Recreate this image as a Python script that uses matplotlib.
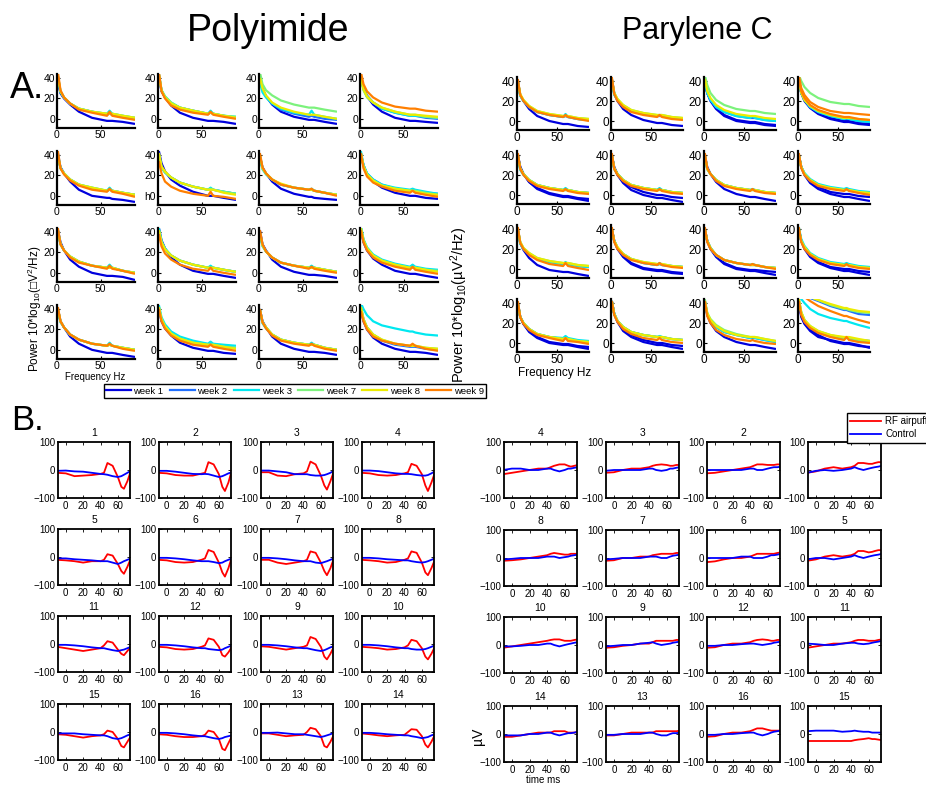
import matplotlib
matplotlib.use('Agg')
import matplotlib.pyplot as plt
from matplotlib.lines import Line2D

plt.rcParams['font.family'] = ['Liberation Sans', 'DejaVu Sans']
plt.rcParams['mathtext.fontset'] = 'custom'
plt.rcParams['mathtext.rm'] = 'Liberation Sans'
plt.rcParams['mathtext.it'] = 'Liberation Sans:italic'

W, H = 926, 785

# ---------------- A. power spectra ----------------
freq_hz = [1, 4, 8, 15, 25, 40, 57, 60, 63, 75, 89]
week_labels = ['week 1', 'week 2', 'week 3', 'week 7', 'week 8', 'week 9']
week_colors = ['#0000dd', '#1f6fff', '#00e8f0', '#7cf27c', '#ecec00', '#ff7f00']

poly_w1 = [
    [36, 25, 20, 14, 7, 1, -2, -2, -2, -3, -5], [40, 27, 21, 13, 6, 1, -2, -2, -2, -3, -5],
    [38, 30, 22, 14, 7, 2, -1, -1, -1, -3, -5], [40, 30, 22, 14, 7, 1, -2, -2, -2, -3, -4],
    [38, 28, 22, 14, 6, 0, -2, -2, -3, -4, -6], [44, 32, 24, 16, 10, 4, 0, 0, 0, -2, -4],
    [38, 28, 22, 14, 7, 2, -1, -1, -2, -3, -4], [40, 30, 21, 14, 8, 3, 0, 0, 0, -2, -3],
    [42, 30, 22, 13, 6, 0, -3, -3, -3, -4, -7], [44, 32, 24, 15, 8, 2, -1, -1, -1, -3, -5],
    [42, 28, 22, 13, 6, 1, -2, -2, -2, -3, -5], [42, 30, 22, 14, 8, 2, -1, -1, -1, -3, -5],
    [40, 28, 22, 13, 6, 0, -3, -3, -3, -5, -7], [40, 28, 21, 14, 7, 2, -1, -1, -1, -3, -4],
    [40, 28, 22, 13, 6, 1, -2, -2, -2, -3, -5], [40, 28, 20, 12, 6, 1, -2, -2, -2, -3, -5]]
poly_w2 = [
    [42, 27, 21, 15, 10, 7, 4, 5, 4, 2, 0], [44, 28, 21, 15, 11, 8, 5, 6, 5, 3, 1],
    [40, 29, 22, 15, 9, 5, 2, 3, 2, 0, -1], [42, 30, 23, 16, 10, 6, 3, 3, 3, 1, 0],
    [42, 28, 22, 16, 11, 7, 5, 6, 5, 3, 1], [40, 28, 23, 18, 13, 9, 6, 7, 6, 4, 2],
    [40, 27, 22, 16, 11, 8, 6, 6, 5, 3, 1], [42, 30, 22, 16, 11, 7, 5, 5, 5, 3, 2],
    [42, 28, 22, 16, 11, 7, 5, 5, 5, 2, 0], [42, 30, 23, 17, 12, 8, 5, 6, 5, 3, 1],
    [40, 27, 21, 15, 10, 7, 5, 6, 5, 3, 1], [44, 32, 24, 17, 12, 8, 5, 6, 5, 3, 2],
    [40, 28, 22, 15, 10, 6, 4, 5, 4, 2, 0], [42, 30, 23, 16, 11, 7, 5, 6, 5, 3, 2],
    [40, 27, 22, 15, 10, 7, 5, 5, 5, 2, 0], [42, 30, 22, 15, 9, 5, 3, 3, 3, 1, 0]]
poly_w3 = [
    [40, 26, 21, 15, 10, 7, 5, 8, 5, 3, 1], [44, 28, 22, 16, 11, 8, 5, 8, 5, 3, 2],
    [36, 26, 21, 15, 10, 6, 4, 8, 4, 2, 0], [42, 29, 22, 16, 10, 6, 3, 3, 3, 2, 1],
    [40, 27, 22, 16, 11, 8, 5, 8, 5, 3, 1], [40, 28, 23, 18, 13, 9, 6, 8, 6, 4, 2],
    [36, 26, 21, 16, 11, 8, 6, 7, 5, 3, 1], [44, 30, 22, 16, 11, 8, 6, 7, 6, 4, 2],
    [40, 28, 22, 16, 11, 7, 5, 8, 5, 2, 0], [44, 31, 24, 17, 12, 8, 5, 7, 5, 3, 1],
    [38, 26, 21, 15, 10, 7, 5, 7, 5, 3, 1], [46, 33, 25, 18, 13, 9, 6, 8, 6, 4, 3],
    [38, 27, 22, 15, 10, 6, 4, 7, 4, 2, 0], [44, 32, 25, 18, 13, 9, 6, 8, 6, 5, 4],
    [38, 26, 21, 15, 10, 7, 5, 7, 5, 2, 0], [46, 40, 34, 28, 24, 21, 18, 18, 17, 15, 14]]
poly_w7 = [
    [42, 27, 21, 15, 10, 7, 5, 6, 5, 3, 1], [44, 28, 22, 16, 11, 8, 5, 6, 5, 3, 2],
    [46, 34, 28, 23, 18, 14, 11, 11, 11, 9, 7], [40, 28, 21, 16, 11, 7, 4, 4, 4, 2, 1],
    [40, 27, 22, 16, 11, 8, 5, 6, 5, 3, 1], [42, 28, 23, 18, 13, 9, 6, 7, 6, 4, 2],
    [40, 27, 22, 16, 11, 8, 6, 6, 5, 3, 1], [42, 29, 21, 15, 10, 7, 5, 5, 5, 3, 1],
    [42, 28, 22, 16, 11, 7, 5, 5, 5, 2, 0], [42, 30, 23, 17, 12, 8, 5, 5, 5, 3, 1],
    [40, 27, 21, 15, 10, 7, 5, 5, 5, 3, 1], [44, 32, 24, 17, 12, 8, 5, 5, 5, 3, 2],
    [40, 28, 22, 15, 10, 6, 4, 5, 4, 2, 0], [42, 30, 23, 16, 11, 7, 5, 5, 5, 3, 2],
    [40, 27, 22, 15, 10, 7, 5, 5, 5, 2, 0], [42, 30, 22, 15, 10, 6, 4, 4, 4, 2, 1]]
poly_w8 = [
    [42, 27, 21, 15, 10, 7, 5, 5, 5, 3, 1], [44, 28, 21, 15, 11, 8, 5, 6, 5, 3, 1],
    [40, 30, 23, 16, 11, 7, 4, 4, 4, 2, 0], [40, 29, 22, 16, 11, 7, 4, 4, 4, 3, 2],
    [40, 27, 22, 16, 11, 8, 5, 6, 5, 3, 1], [42, 29, 24, 18, 13, 9, 6, 6, 6, 3, 1],
    [40, 27, 22, 16, 12, 8, 6, 6, 5, 3, 1], [42, 29, 21, 15, 10, 7, 5, 5, 4, 2, 1],
    [42, 28, 22, 16, 11, 7, 5, 5, 5, 2, 0], [42, 30, 23, 17, 12, 8, 5, 5, 5, 3, 1],
    [40, 27, 21, 15, 10, 7, 5, 5, 5, 3, 1], [44, 32, 24, 17, 12, 8, 5, 5, 5, 3, 1],
    [40, 28, 22, 15, 10, 6, 4, 5, 4, 2, 0], [42, 30, 23, 16, 11, 7, 5, 5, 5, 3, 1],
    [40, 27, 22, 15, 10, 7, 5, 5, 5, 2, 0], [42, 30, 22, 15, 10, 6, 4, 4, 4, 2, 1]]
poly_w9 = [
    [46, 28, 21, 15, 9, 6, 3, 7, 3, 1, -1], [46, 27, 20, 13, 9, 6, 4, 7, 4, 2, 0],
    None, [46, 34, 27, 21, 16, 12, 10, 10, 10, 8, 7],
    [44, 27, 21, 15, 10, 6, 4, 7, 4, 2, -1], [34, 22, 14, 9, 5, 2, 0, 4, 0, -1, -3],
    [42, 28, 22, 16, 11, 8, 6, 7, 5, 3, 0], [42, 27, 19, 13, 9, 5, 3, 5, 3, 1, -1],
    [44, 28, 22, 15, 10, 7, 4, 7, 4, 2, -1], [38, 26, 19, 13, 8, 4, 2, 5, 2, 0, -2],
    [42, 28, 21, 15, 10, 7, 4, 6, 4, 2, 0], [42, 30, 22, 15, 10, 6, 3, 6, 3, 1, -1],
    [42, 28, 22, 15, 10, 6, 4, 6, 4, 1, -1], [40, 28, 21, 14, 9, 5, 3, 5, 3, 1, -1],
    [40, 27, 21, 14, 9, 6, 4, 6, 4, 1, -1], [38, 28, 20, 13, 9, 6, 4, 6, 4, 1, -1]]

par_w1 = [
    [40, 26, 20, 12, 5, 0, -3, -3, -3, -5, -6], [42, 28, 20, 12, 6, 1, -2, -2, -2, -4, -5],
    [40, 28, 20, 12, 5, 0, -2, -2, -2, -4, -5], [40, 28, 20, 13, 7, 2, -1, -1, -1, -3, -4],
    [40, 28, 21, 13, 6, 1, -2, -2, -2, -4, -6], [40, 28, 21, 14, 8, 3, 0, 0, 0, -2, -3],
    [40, 28, 21, 13, 6, 1, -2, -2, -2, -4, -6], [40, 28, 20, 12, 6, 1, -2, -2, -2, -4, -6],
    [40, 26, 19, 11, 4, -1, -3, -3, -3, -5, -7], [40, 28, 20, 12, 5, 0, -2, -2, -2, -4, -5],
    [40, 28, 20, 12, 5, 0, -2, -2, -2, -4, -6], [40, 28, 20, 12, 6, 1, -2, -2, -2, -4, -6],
    [40, 26, 19, 11, 5, 0, -2, -2, -2, -4, -6], [42, 29, 21, 12, 6, 1, -2, -2, -2, -4, -6],
    [42, 28, 20, 12, 6, 1, -2, -2, -2, -4, -6], [40, 26, 19, 12, 6, 3, 0, 0, 0, -2, -5]]
par_w2 = [
    [40, 26, 20, 14, 9, 6, 4, 5, 4, 2, 1], [42, 27, 21, 15, 10, 7, 5, 5, 5, 3, 2],
    [40, 28, 21, 14, 9, 5, 3, 3, 3, 1, 0], [40, 28, 21, 14, 9, 5, 2, 2, 2, 0, -1],
    [40, 26, 21, 15, 10, 7, 5, 5, 5, 3, 2], [40, 26, 21, 15, 10, 7, 5, 6, 5, 3, 2],
    [40, 26, 21, 15, 10, 7, 5, 5, 5, 3, 2], [40, 28, 21, 15, 10, 7, 5, 6, 5, 3, 2],
    [40, 26, 20, 15, 10, 7, 5, 6, 5, 3, 2], [40, 28, 21, 15, 10, 6, 4, 5, 4, 3, 2],
    [40, 28, 21, 14, 9, 6, 4, 4, 4, 2, 1], [40, 28, 22, 15, 10, 6, 4, 4, 4, 2, 1],
    [40, 26, 20, 14, 9, 6, 4, 5, 4, 2, 1], [42, 29, 22, 16, 11, 8, 6, 6, 6, 4, 3],
    [42, 29, 22, 16, 11, 8, 5, 5, 5, 3, 1], [48, 48, 47, 45, 42, 37, 33, 33, 32, 29, 28]]
par_w3 = [
    [38, 25, 20, 14, 9, 6, 4, 7, 4, 2, 1], [40, 26, 21, 15, 10, 7, 5, 6, 5, 3, 2],
    [40, 28, 21, 14, 9, 5, 3, 5, 3, 1, 0], [40, 28, 21, 14, 9, 5, 2, 3, 2, 0, -1],
    [38, 25, 20, 15, 10, 7, 5, 7, 5, 3, 2], [40, 26, 21, 15, 10, 7, 5, 7, 5, 3, 2],
    [40, 26, 21, 15, 10, 7, 5, 6, 5, 3, 2], [40, 28, 22, 16, 11, 8, 6, 7, 6, 4, 3],
    [38, 25, 20, 15, 10, 7, 5, 7, 5, 3, 2], [40, 28, 21, 15, 10, 6, 4, 6, 4, 3, 2],
    [40, 28, 21, 14, 9, 6, 4, 5, 4, 2, 1], [42, 30, 23, 16, 11, 7, 5, 6, 5, 3, 2],
    [40, 26, 20, 14, 9, 6, 5, 7, 5, 3, 2], [42, 29, 22, 16, 11, 8, 6, 7, 6, 4, 3],
    [42, 29, 22, 16, 11, 8, 5, 6, 5, 3, 1], [46, 44, 40, 34, 29, 25, 22, 22, 21, 18, 15]]
par_w7 = [
    [40, 26, 21, 15, 10, 7, 5, 5, 5, 3, 2], [42, 28, 22, 16, 11, 8, 6, 6, 6, 4, 3],
    [46, 36, 28, 21, 16, 12, 10, 10, 10, 8, 7], [46, 40, 34, 28, 23, 19, 17, 17, 17, 15, 14],
    [40, 26, 21, 15, 10, 7, 5, 5, 5, 3, 2], [40, 26, 21, 15, 10, 7, 5, 5, 5, 3, 2],
    [40, 26, 21, 15, 10, 7, 5, 5, 5, 3, 2], [40, 28, 21, 15, 10, 7, 5, 5, 5, 3, 2],
    [40, 27, 21, 16, 11, 8, 6, 6, 6, 4, 3], [40, 28, 21, 15, 10, 7, 5, 5, 5, 3, 2],
    [40, 28, 21, 14, 9, 6, 4, 4, 4, 2, 1], [40, 28, 22, 15, 10, 6, 4, 4, 4, 2, 1],
    [40, 26, 20, 14, 9, 6, 4, 5, 4, 2, 1], [42, 29, 22, 16, 11, 8, 6, 6, 6, 4, 3],
    [44, 30, 24, 18, 13, 9, 6, 6, 6, 4, 2], [48, 48, 48, 46, 43, 38, 34, 34, 33, 31, 30]]
par_w8 = [
    [40, 27, 21, 15, 10, 7, 5, 5, 5, 3, 2], [42, 28, 22, 16, 11, 8, 6, 6, 6, 4, 3],
    [42, 30, 23, 16, 11, 7, 5, 5, 5, 3, 2], [40, 28, 21, 15, 10, 6, 3, 3, 3, 2, 1],
    [40, 27, 21, 15, 10, 7, 5, 5, 5, 3, 2], [40, 27, 21, 15, 10, 7, 5, 5, 5, 3, 2],
    [40, 26, 21, 15, 10, 7, 5, 5, 5, 3, 2], [40, 28, 21, 15, 10, 7, 5, 5, 5, 3, 2],
    [40, 27, 21, 16, 11, 8, 6, 6, 6, 4, 3], [40, 28, 22, 15, 10, 7, 5, 5, 5, 3, 2],
    [40, 28, 21, 14, 9, 6, 4, 4, 4, 2, 1], [40, 28, 22, 15, 10, 6, 4, 4, 4, 2, 1],
    [40, 26, 20, 14, 9, 6, 4, 5, 4, 2, 1], [42, 29, 22, 16, 11, 8, 6, 6, 6, 4, 3],
    [42, 30, 23, 17, 12, 8, 6, 6, 6, 4, 2], [48, 48, 48, 46, 43, 39, 35, 35, 34, 32, 31]]
par_w9 = [
    [42, 26, 20, 14, 9, 6, 4, 6, 4, 2, 0], [44, 27, 20, 14, 9, 6, 4, 6, 4, 2, 1],
    None, [46, 33, 26, 19, 14, 10, 8, 8, 8, 7, 6],
    [42, 26, 20, 14, 9, 6, 4, 6, 4, 2, 1], [42, 26, 20, 14, 9, 6, 4, 6, 4, 2, 1],
    [42, 27, 21, 14, 9, 6, 4, 6, 4, 2, 1], [42, 27, 20, 14, 9, 6, 4, 6, 4, 2, 0],
    [42, 26, 20, 14, 9, 5, 3, 6, 3, 1, -1], [42, 27, 20, 14, 9, 6, 4, 6, 4, 2, 1],
    [42, 27, 20, 14, 9, 6, 4, 5, 4, 2, 0], [42, 27, 20, 14, 9, 5, 3, 5, 3, 1, 0],
    [42, 26, 19, 13, 8, 5, 2, 5, 2, 1, -1], [42, 28, 21, 14, 9, 5, 3, 5, 3, 1, 0],
    [42, 27, 20, 13, 8, 4, 2, 3, 2, 0, -1], [48, 47, 46, 42, 37, 32, 27, 27, 26, 23, 20]]

# second recordings shown in some parylene panels: (panel, week index, values)
par_extra = [
    (2, 0, [40, 28, 21, 13, 6, 1, -1, -1, -1, -3, -4]),
    (3, 0, [40, 28, 21, 14, 8, 3, 0, 0, 0, -2, -3]),
    (3, 5, [42, 30, 23, 16, 11, 7, 4, 4, 4, 2, 1]),
    (4, 0, [40, 28, 21, 13, 7, 2, -1, -1, -1, -3, -4]),
    (5, 0, [40, 27, 20, 12, 5, 0, -3, -3, -3, -5, -7]),
    (7, 0, [40, 28, 21, 14, 8, 3, 1, 1, 1, -1, -2]),
    (9, 0, [40, 28, 21, 13, 6, 1, -1, -1, -1, -3, -4]),
    (10, 0, [40, 28, 21, 13, 6, 1, -1, -1, -1, -2, -3]),
    (11, 0, [40, 28, 21, 13, 7, 2, 0, 0, 0, -2, -3]),
    (12, 0, [40, 26, 19, 12, 6, 1, -1, -1, -1, -3, -4]),
    (13, 0, [42, 29, 22, 14, 8, 3, 0, 0, 0, -2, -3]),
    (15, 0, [40, 28, 20, 14, 8, 2, -1, -1, -1, -3, -4]),
    (15, 1, [44, 30, 22, 16, 11, 7, 5, 5, 5, 3, 2]),
    (15, 2, [42, 30, 23, 16, 11, 7, 5, 6, 5, 3, 1]),
    (15, 3, [44, 31, 23, 17, 12, 8, 5, 5, 5, 3, 2]),
    (15, 4, [44, 31, 23, 17, 12, 8, 6, 6, 6, 4, 2]),
    (15, 5, [42, 28, 21, 15, 10, 6, 3, 6, 3, 1, 0]),
]

# ---------------- B. evoked responses ----------------
time_ms = [-10, 0, 10, 20, 30, 40, 44, 48, 54, 60, 64, 67, 71, 75]
poly_titles = ['1', '2', '3', '4', '5', '6', '7', '8',
               '11', '12', '9', '10', '15', '16', '13', '14']
poly_airpuff = [
    [-10, -12, -22, -20, -18, -14, -10, 25, 15, -25, -60, -67, -40, -3],
    [-10, -12, -18, -20, -20, -13, -10, 28, 20, -15, -60, -75, -45, 0],
    [-8, -8, -20, -22, -15, -12, -5, 30, 20, -20, -55, -70, -40, -5],
    [-10, -12, -18, -20, -18, -12, -8, 22, 15, -15, -55, -75, -45, -10],
    [-10, -12, -15, -20, -15, -15, -10, 10, 5, -25, -50, -60, -35, -5],
    [-10, -12, -18, -20, -18, -10, -5, 25, 18, -20, -55, -70, -40, 0],
    [-10, -10, -20, -25, -20, -15, -10, 20, 15, -20, -50, -65, -40, -5],
    [-10, -12, -15, -20, -18, -10, -5, 20, 15, -20, -55, -65, -40, -10],
    [-10, -15, -20, -25, -20, -15, -5, 10, 5, -20, -35, -40, -25, -10],
    [-10, -12, -18, -20, -18, -10, -5, 20, 15, -10, -40, -45, -30, -10],
    [-8, -10, -15, -20, -15, -10, -5, 25, 18, -10, -45, -55, -35, -10],
    [-10, -12, -15, -20, -18, -12, -5, 15, 10, -15, -45, -55, -35, -10],
    [-8, -10, -15, -20, -15, -12, -8, 5, 0, -25, -50, -55, -35, -15],
    [-8, -10, -15, -18, -18, -15, -10, 5, 0, -25, -60, -65, -40, -15],
    [-5, -5, -10, -15, -12, -10, 0, 15, 10, -15, -50, -55, -35, -10],
    [-5, -8, -12, -15, -12, -10, 0, 10, 8, -15, -45, -55, -35, -10]]
poly_control = [
    [-3, -2, -5, -6, -10, -14, -15, -17, -22, -25, -22, -17, -10, -3],
    [-3, -3, -6, -10, -14, -15, -14, -15, -20, -25, -22, -18, -12, -8],
    [-2, -2, -5, -8, -15, -15, -15, -18, -20, -20, -18, -15, -10, -3],
    [-2, -2, -4, -8, -12, -14, -14, -15, -18, -20, -20, -18, -12, -5],
    [-5, -5, -8, -10, -12, -15, -15, -15, -20, -25, -20, -15, -10, -5],
    [-3, -3, -5, -8, -12, -15, -15, -15, -18, -22, -20, -15, -10, -5],
    [-3, -3, -5, -8, -12, -15, -15, -15, -20, -22, -18, -15, -10, -5],
    [-3, -3, -5, -8, -10, -12, -12, -15, -18, -20, -18, -15, -10, -5],
    [-3, -3, -5, -8, -12, -15, -15, -18, -22, -25, -22, -20, -15, -10],
    [-3, -3, -5, -8, -12, -15, -15, -18, -20, -22, -20, -15, -10, -5],
    [-3, -3, -5, -8, -12, -15, -15, -18, -22, -25, -22, -18, -12, -8],
    [-3, -3, -5, -8, -12, -15, -15, -18, -20, -20, -18, -15, -10, -5],
    [-5, -5, -5, -8, -10, -12, -12, -15, -22, -25, -22, -18, -12, -8],
    [-3, -3, -5, -8, -12, -15, -15, -18, -22, -25, -22, -18, -15, -12],
    [-3, -3, -2, -5, -8, -8, -10, -12, -15, -18, -15, -12, -8, -3],
    [-3, -3, -5, -8, -10, -12, -12, -15, -18, -22, -20, -18, -12, -8]]

# the title of the 4th parylene panel is hidden behind the legend
par_titles = ['4', '3', '2', '', '8', '7', '6', '5',
              '10', '9', '12', '11', '14', '13', '16', '15']
par_airpuff = [
    [-15, -10, -5, 0, 5, 5, 10, 15, 20, 20, 15, 12, 15, 18],
    [-10, -8, 0, 5, 5, 10, 15, 18, 20, 18, 15, 15, 18, 18],
    [-12, -10, -5, 0, 5, 10, 15, 20, 20, 18, 18, 18, 20, 20],
    [-10, -5, 5, 10, 5, 10, 15, 25, 25, 22, 22, 25, 28, 28],
    [-10, -8, -5, 0, 5, 10, 15, 18, 15, 12, 12, 15, 15, 15],
    [-10, -8, 0, 0, 5, 5, 10, 12, 15, 15, 15, 15, 18, 18],
    [-15, -12, -5, 0, 0, 5, 10, 15, 15, 15, 15, 15, 18, 20],
    [-10, -5, 5, 10, 5, 10, 15, 25, 25, 20, 22, 25, 28, 28],
    [-10, -5, 0, 5, 10, 15, 18, 20, 20, 15, 15, 15, 18, 20],
    [-10, -8, -3, 0, 5, 5, 10, 15, 15, 15, 15, 15, 18, 18],
    [-10, -8, 0, 5, 5, 10, 15, 18, 20, 18, 15, 15, 18, 18],
    [-10, -5, 0, 5, 5, 10, 15, 18, 18, 15, 15, 15, 18, 20],
    [-10, -10, -5, 0, 5, 5, 5, 10, 10, 10, 5, 5, 5, 8],
    [-5, -5, 0, 5, 5, 5, 5, 10, 10, 10, 10, 10, 10, 12],
    [-10, -8, 0, 5, 5, 10, 15, 20, 20, 15, 12, 12, 12, 12],
    [-25, -25, -25, -25, -25, -25, -22, -20, -18, -15, -18, -18, -20, -22]]
par_control = [
    [0, 5, 5, 0, 0, 5, 5, 0, -5, 0, 5, 5, 8, 10],
    [-3, 0, 0, 0, 0, 5, 5, 0, -3, 0, 5, 5, 8, 10],
    [0, 0, 0, 0, 0, 5, 5, 0, 0, 5, 8, 10, 10, 12],
    [-10, -3, 0, -3, 0, 5, 10, 5, 0, 5, 8, 10, 12, 15],
    [-5, -3, 0, 0, 0, 5, 5, 5, 0, 3, 5, 8, 10, 12],
    [-5, -3, 0, 0, 0, 5, 5, 5, 0, 0, 5, 8, 10, 12],
    [0, 0, 0, 0, 5, 5, 0, 0, 0, 5, 10, 10, 12, 15],
    [-5, 0, 0, -5, 0, 5, 10, 5, 0, 5, 8, 10, 12, 15],
    [-5, -5, -3, 0, 0, 5, 5, 0, -5, 0, 3, 5, 8, 10],
    [-5, -3, 0, 0, 5, 8, 10, 5, 0, 3, 5, 8, 10, 12],
    [-3, -3, 0, 0, 3, 5, 5, 3, 0, 3, 5, 8, 10, 12],
    [5, 3, 0, 0, 5, 8, 8, 5, 3, 5, 8, 10, 12, 15],
    [-5, -5, -5, 0, 0, 5, 5, 0, -5, 0, 3, 3, 5, 8],
    [-3, -3, 0, 0, 0, 5, 5, 0, -5, -5, 0, 3, 3, 5],
    [-3, -3, 0, 0, 3, 5, 5, 0, -5, 0, 5, 8, 10, 12],
    [10, 12, 12, 12, 8, 10, 12, 10, 8, 8, 5, 5, 5, 5]]


def px_axes(fig, x, y_top, w, h):
    return fig.add_axes([x / W, 1 - (y_top + h) / H, w / W, h / H])


def draw_psd(ax, curves, fs):
    for wi, vals in sorted(curves, key=lambda c: c[0]):
        ax.plot(freq_hz, vals, color=week_colors[wi], lw=1.6, solid_capstyle='butt')
    ax.set_xlim(0, 89)
    ax.set_ylim(-9, 44)
    ax.set_xticks([0, 50])
    ax.set_yticks([0, 20, 40])
    for s in ['top', 'right']:
        ax.spines[s].set_visible(False)
    for s in ['left', 'bottom']:
        ax.spines[s].set_linewidth(1.6)
    ax.tick_params(direction='in', length=2, width=0.8, labelsize=fs, pad=1.5)


def draw_erp(ax, title, red, blue):
    ax.plot(time_ms, red, color='#ff0000', lw=1.3)
    ax.plot(time_ms, blue, color='#0000ff', lw=1.3)
    ax.set_xlim(-9, 74)
    ax.set_ylim(-100, 100)
    ax.set_xticks([0, 20, 40, 60])
    ax.set_yticks([-100, 0, 100])
    for s in ax.spines.values():
        s.set_linewidth(1.3)
    ax.tick_params(direction='in', length=2, width=0.6, labelsize=7, pad=2,
                   top=True, right=True)
    if title:
        ax.set_title(title, fontsize=7.5, pad=4)


fig = plt.figure(figsize=(W / 100, H / 100), dpi=100)

fig.text(268 / W, 1 - 31 / H, 'Polyimide', fontsize=27, ha='center', va='center')
fig.text(697 / W, 1 - 31 / H, 'Parylene C', fontsize=22, ha='center', va='center')
fig.text(10 / W, 1 - 89 / H, 'A.', fontsize=26, ha='left', va='center')
fig.text(11 / W, 1 - 420 / H, 'B.', fontsize=25, ha='left', va='center')

# A polyimide
poly_weeks = [poly_w1, poly_w2, poly_w3, poly_w7, poly_w8, poly_w9]
for i in range(16):
    r, c = divmod(i, 4)
    ax = px_axes(fig, [57, 158, 259, 360][c], [74, 151, 228, 305][r], 78, 54)
    curves = [(wi, wk[i]) for wi, wk in enumerate(poly_weeks) if wk[i] is not None]
    draw_psd(ax, curves, 7.5)
    if i == 5:
        ax.set_yticklabels(['h0', '20', '40'])

# A parylene
par_weeks = [par_w1, par_w2, par_w3, par_w7, par_w8, par_w9]
for i in range(16):
    r, c = divmod(i, 4)
    ax = px_axes(fig, [517, 611, 704, 798][c], [77, 151, 225, 299][r], 72, 53)
    curves = [(wi, wk[i]) for wi, wk in enumerate(par_weeks) if wk[i] is not None]
    curves += [(wi, v) for p, wi, v in par_extra if p == i]
    draw_psd(ax, curves, 8.5)

fig.text(35 / W, 1 - 309 / H, 'Power 10*log$_{10}$(\u25a1V$^2$/Hz)', fontsize=8.5,
         rotation=90, ha='center', va='center')
fig.text(95 / W, 1 - 377 / H, 'Frequency Hz', fontsize=7, ha='center', va='center')
fig.text(459 / W, 1 - 305 / H, 'Power 10*log$_{10}$(\u00b5V$^2$/Hz)', fontsize=10.5,
         rotation=90, ha='center', va='center')
fig.text(555 / W, 1 - 373 / H, 'Frequency Hz', fontsize=8.5, ha='center', va='center')

week_handles = [Line2D([], [], color=col, lw=1.6) for col in week_colors]
leg = fig.legend(week_handles, week_labels, loc='center', ncol=6,
                 bbox_to_anchor=(295 / W, 1 - 391 / H), fontsize=6.8,
                 handlelength=2.6, handletextpad=0.3, columnspacing=0.7,
                 borderpad=0.25, fancybox=False, edgecolor='black', framealpha=1)
leg.get_frame().set_linewidth(1.0)

# B polyimide
for i in range(16):
    r, c = divmod(i, 4)
    ax = px_axes(fig, [58, 159, 261, 362][c], [442, 529, 616, 704][r], 72, 56)
    draw_erp(ax, poly_titles[i], poly_airpuff[i], poly_control[i])

# B parylene
for i in range(16):
    r, c = divmod(i, 4)
    ax = px_axes(fig, [504, 606, 707, 808][c], [442, 530, 617, 706][r], 73, 56)
    draw_erp(ax, par_titles[i], par_airpuff[i], par_control[i])

fig.text(478 / W, 1 - 736 / H, '\u00b5V', fontsize=10, rotation=90, ha='center', va='center')
fig.text(543 / W, 1 - 780 / H, 'time ms', fontsize=7, ha='center', va='center')

erp_handles = [Line2D([], [], color='#ff0000', lw=1.3), Line2D([], [], color='#0000ff', lw=1.3)]
leg2 = fig.legend(erp_handles, ['RF airpuff', 'Control'], loc='upper left',
                  bbox_to_anchor=(842 / W, 1 - 408 / H), fontsize=7,
                  handlelength=3.2, handletextpad=0.4, borderpad=0.35, labelspacing=0.3,
                  fancybox=False, edgecolor='black', framealpha=1)
leg2.get_frame().set_linewidth(1.0)

fig.savefig('out.png', dpi=100)
